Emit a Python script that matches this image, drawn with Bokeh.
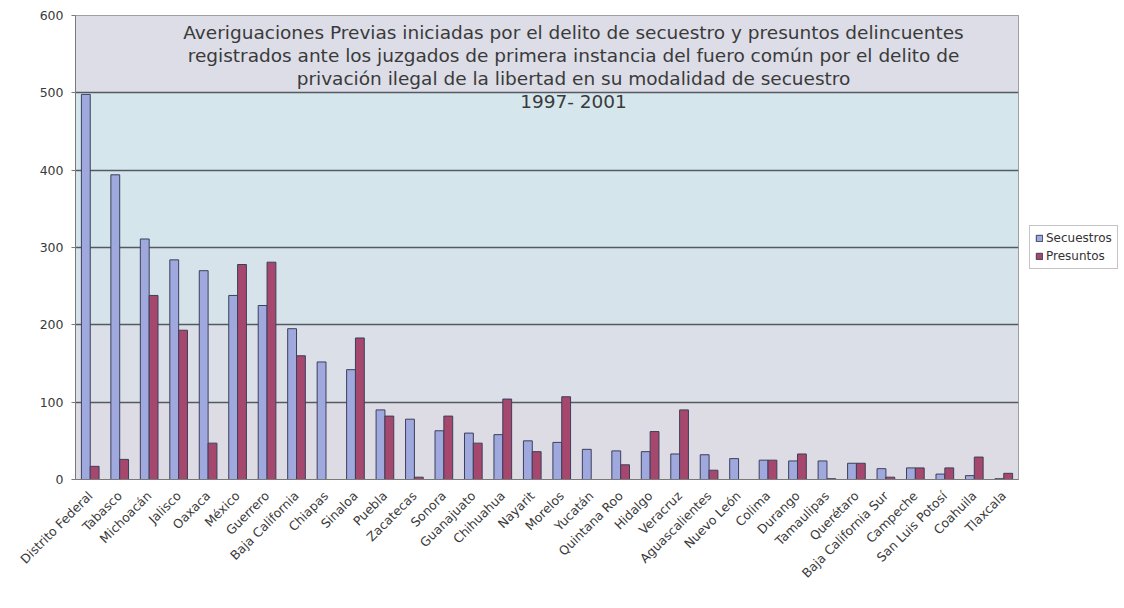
import math
from bokeh.plotting import figure
from bokeh.models import ColumnDataSource, Legend, LegendItem, Label, BoxAnnotation, FactorRange
from bokeh.transform import dodge
from bokeh.embed import file_html
from bokeh.resources import INLINE

categories = ["Distrito Federal", "Tabasco", "Michoacán", "Jalisco", "Oaxaca", "México",
              "Guerrero", "Baja California", "Chiapas", "Sinaloa", "Puebla", "Zacatecas",
              "Sonora", "Guanajuato", "Chihuahua", "Nayarit", "Morelos", "Yucatán",
              "Quintana Roo", "Hidalgo", "Veracruz", "Aguascalientes", "Nuevo León", "Colima",
              "Durango", "Tamaulipas", "Querétaro", "Baja California Sur", "Campeche",
              "San Luis Potosí", "Coahuila", "Tlaxcala"]
secuestros = [498, 394, 311, 284, 270, 238, 225, 195, 152, 142, 90, 78,
              63, 60, 58, 50, 48, 39, 37, 36, 33, 32, 27, 25,
              24, 24, 21, 14, 15, 7, 5, 1]
presuntos = [17, 26, 238, 193, 47, 278, 281, 160, 0, 183, 82, 3,
             82, 47, 104, 36, 107, 0, 19, 62, 90, 12, 0, 25,
             33, 1, 21, 3, 15, 15, 29, 8]
y_ticks = [0, 100, 200, 300, 400, 500, 600]
title_lines = ["Averiguaciones Previas iniciadas por el delito de secuestro y presuntos delincuentes",
               "registrados ante los juzgados de primera instancia del fuero común por el delito de",
               "privación ilegal de la libertad en su modalidad de secuestro",
               "1997- 2001"]

FONT = "DejaVu Sans"

source = ColumnDataSource(dict(cat=categories, sec=secuestros, pre=presuntos))

p = figure(x_range=FactorRange(*categories), y_range=(0, 600),
           frame_width=943, frame_height=464,
           min_border_left=75, min_border_top=15, min_border_bottom=10, min_border_right=2,
           output_backend="svg", toolbar_location=None,
           background_fill_color="#d8e6ea", border_fill_color="white")
p.x_range.range_padding = 0

# soft vertical gradient of the plot background
bands = [(0, 100, "#dddce5"), (100, 200, "#dadfe8"), (200, 300, "#d7e3ea"),
         (300, 400, "#d4e6ec"), (400, 500, "#d5e6ec"), (500, 600, "#dcdde7")]
for b, t, c in bands:
    p.add_layout(BoxAnnotation(bottom=b, top=t, fill_color=c, fill_alpha=1.0,
                               line_alpha=0, level="image"))

r1 = p.vbar(x=dodge("cat", -0.15, range=p.x_range), top="sec", width=0.3, source=source,
            fill_color="#9fa9dd", line_color="#3c3f5c", line_width=1)
r2 = p.vbar(x=dodge("cat", 0.15, range=p.x_range), top="pre", width=0.3, source=source,
            fill_color="#a6486d", line_color="#3c3f5c", line_width=1)

for i, line in enumerate(title_lines):
    p.add_layout(Label(x=16.9, y=600, y_offset=-6 - 23 * i, text=line, text_align="center",
                       text_baseline="top", text_font=FONT, text_font_size="18.5px",
                       text_color="#3a3a3a"))

p.xgrid.grid_line_color = None
p.ygrid.grid_line_color = "#555a60"
p.ygrid.grid_line_width = 1.3
p.yaxis.ticker = y_ticks
p.yaxis.minor_tick_line_color = None
p.outline_line_color = "#8a8a8a"

for ax in (p.xaxis, p.yaxis):
    ax.axis_line_color = "#7a7a7a"
    ax.major_tick_line_color = "#7a7a7a"
    ax.major_label_text_font = FONT
    ax.major_label_text_color = "#3a3a3a"
p.xaxis.major_label_text_font_size = "12.5px"
p.yaxis.major_label_text_font_size = "12.5px"
p.xaxis.major_label_orientation = math.pi / 4
p.xaxis.major_tick_line_color = None
p.xaxis.major_label_standoff = 8
p.yaxis.major_tick_in = 0
p.yaxis.major_tick_out = 4
p.yaxis.major_label_standoff = 8

legend = Legend(items=[LegendItem(label="Secuestros", renderers=[r1]),
                       LegendItem(label="Presuntos", renderers=[r2])],
                location="center_left", label_text_font=FONT, label_text_font_size="12px",
                label_text_color="#333333", glyph_width=8, glyph_height=8,
                label_standoff=3, spacing=4, padding=5, margin=11,
                border_line_color="#8a8a8a", background_fill_color="white")
p.add_layout(legend, "right")

open("out.html", "w").write(file_html(p, INLINE))
